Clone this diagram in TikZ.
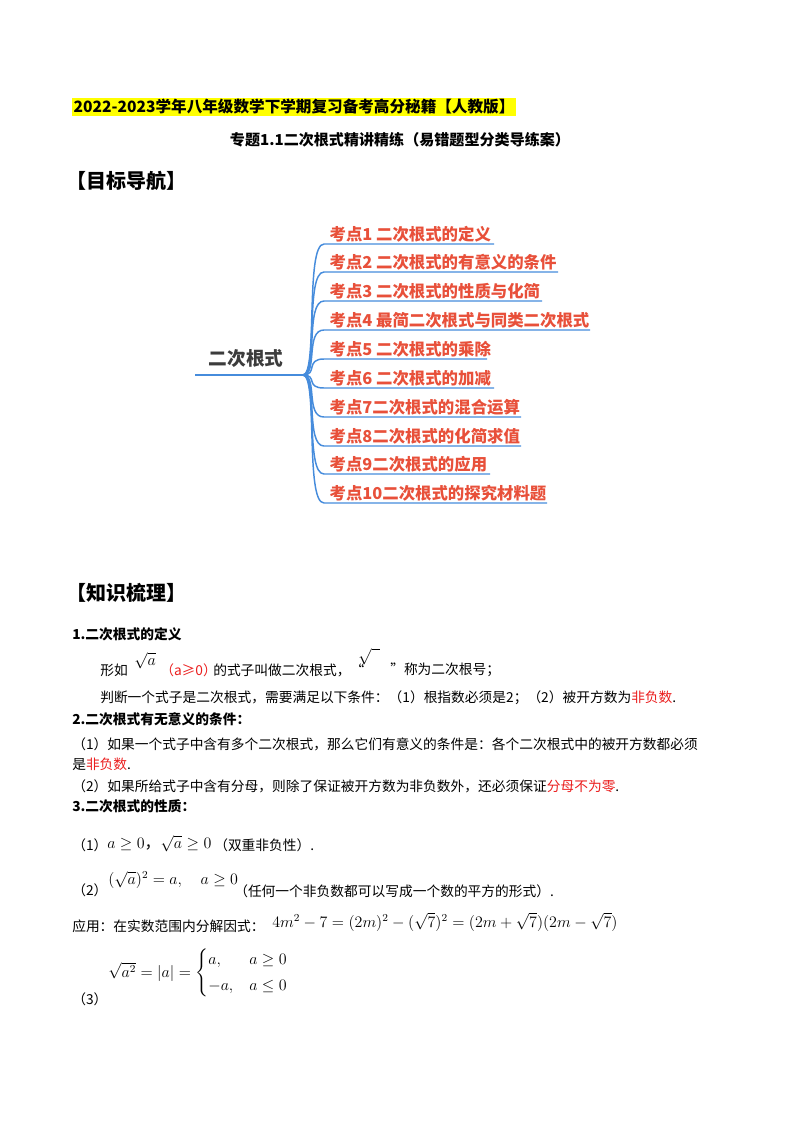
\documentclass[tikz,border=0pt]{standalone}
\usepackage{fontspec}
\usepackage{amsmath}
\setmainfont{Noto Sans CJK SC}
\definecolor{hl}{RGB}{255,255,0}
\definecolor{pt}{RGB}{232,80,58}
\definecolor{br}{RGB}{70,140,220}
\definecolor{rt}{RGB}{60,60,60}
\definecolor{rd}{RGB}{235,30,30}
\tikzset{
 txt/.style={anchor=west,inner sep=0pt,font=\fontsize{10.3}{12}\selectfont},
 hd/.style={txt,font=\fontsize{10.3}{12}\selectfont\bfseries},
 mth/.style={anchor=west,inner sep=0pt,font=\fontsize{12}{14}\selectfont},
 item/.style={anchor=south west,inner sep=1pt,text=pt,font=\fontsize{12.3}{14}\selectfont\bfseries},
 branch/.style={draw=br,line width=1.1pt}
}
\begin{document}
\begin{tikzpicture}[x=0.75pt,y=-0.75pt]
\useasboundingbox[fill=white] (0,0) rectangle (800,1132);
\node[anchor=west,fill=hl,inner sep=1pt,font=\fontsize{11.7}{13}\selectfont\bfseries] (t1) at (72,107) {2022-2023学年八年级数学下学期复习备考高分秘籍【人教版】};
\node[font=\fontsize{11.3}{13}\selectfont\bfseries] (t2) at (400,140) {专题1.1二次根式精讲精练（易错题型分类导练案）};
\node[anchor=west,inner sep=0pt,font=\fontsize{15}{17}\selectfont\bfseries] (h1) at (66,181) {【目标导航】};
% mind map
\node[anchor=south,text=rt,font=\fontsize{14}{16}\selectfont\bfseries,inner sep=2pt] (root) at (246,370) {二次根式};
\coordinate (r0) at (195,375);
\coordinate (r1) at (303,375);
\draw[branch] (r0) -- (r1);
\foreach \i/\y/\e/\t in {1/244/494/{考点1 二次根式的定义},2/272/558/{考点2 二次根式的有意义的条件},3/301/542/{考点3 二次根式的性质与化简},4/330/590/{考点4 最简二次根式与同类二次根式},5/359/487/{考点5 二次根式的乘除},6/388/494/{考点6 二次根式的加减},7/417/521/{考点7二次根式的混合运算},8/446/521/{考点8二次根式的化简求值},9/474/490/{考点9二次根式的应用},10/503/547/{考点10二次根式的探究材料题}}{
  \node[item] (k\i) at (328,\y) {\t};
  \coordinate (s\i) at (324,\y);
  \coordinate (e\i) at (\e,\y);
  \draw[branch] (r1) .. controls (318,375) and (305,\y) .. (s\i) -- (e\i);
}
\node[anchor=west,inner sep=0pt,font=\fontsize{15}{17}\selectfont\bfseries] (h2) at (66,593) {【知识梳理】};
% section 1
\node[hd] (a1) at (72,634) {1.二次根式的定义};
\node[txt] (a2) at (100,670) {形如};
\node[mth] (a3) at (134,661) {$\sqrt{a}$};
\node[txt,text=rd] (a4) at (160,670) {（a≥0）};
\node[txt] (a5) at (213,670) {的式子叫做二次根式，“};
\node[mth] (a6) at (358,657) {$\sqrt{\phantom{a}}$};
\node[txt] (a7) at (390,670) {”称为二次根号；};
\node[txt] (a8) at (100,698) {判断一个式子是二次根式，需要满足以下条件：（1）根指数必须是2；（2）被开方数为\textcolor{rd}{非负数}.};
\node[hd] (b1) at (72,719) {2.二次根式有无意义的条件：};
\node[txt] (b2) at (72,744) {（1）如果一个式子中含有多个二次根式，那么它们有意义的条件是：各个二次根式中的被开方数都必须};
\node[txt] (b3) at (72,764) {是\textcolor{rd}{非负数}.};
\node[txt] (b4) at (72,786) {（2）如果所给式子中含有分母，则除了保证被开方数为非负数外，还必须保证\textcolor{rd}{分母不为零}.};
\node[hd] (c1) at (72,806) {3.二次根式的性质：};
\node[txt] (c2) at (72,845) {（1）};
\node[mth] (c2m) at (107,844) {$a\geq 0$，$\sqrt{a}\geq 0$};
\node[txt] (c2t) at (214,845) {（双重非负性）.};
\node[txt] (c3) at (72,890) {（2）};
\node[mth] (c4) at (108,880) {$(\sqrt{a})^2=a,\quad a\geq 0$};
\node[txt] (c5) at (234,891) {（任何一个非负数都可以写成一个数的平方的形式）.};
\node[txt] (d1) at (72,926) {应用：在实数范围内分解因式：};
\node[mth] (d2) at (272,922) {$4m^2-7=(2m)^2-(\sqrt{7})^2=(2m+\sqrt{7})(2m-\sqrt{7})$};
\node[mth] (e1) at (108,973) {$\sqrt{a^2}=|a|=\begin{cases}a, & a\geq 0\\[2pt] -a, & a\leq 0\end{cases}$};
\node[txt] (e2) at (72,999) {（3）};
\end{tikzpicture}
\end{document}
